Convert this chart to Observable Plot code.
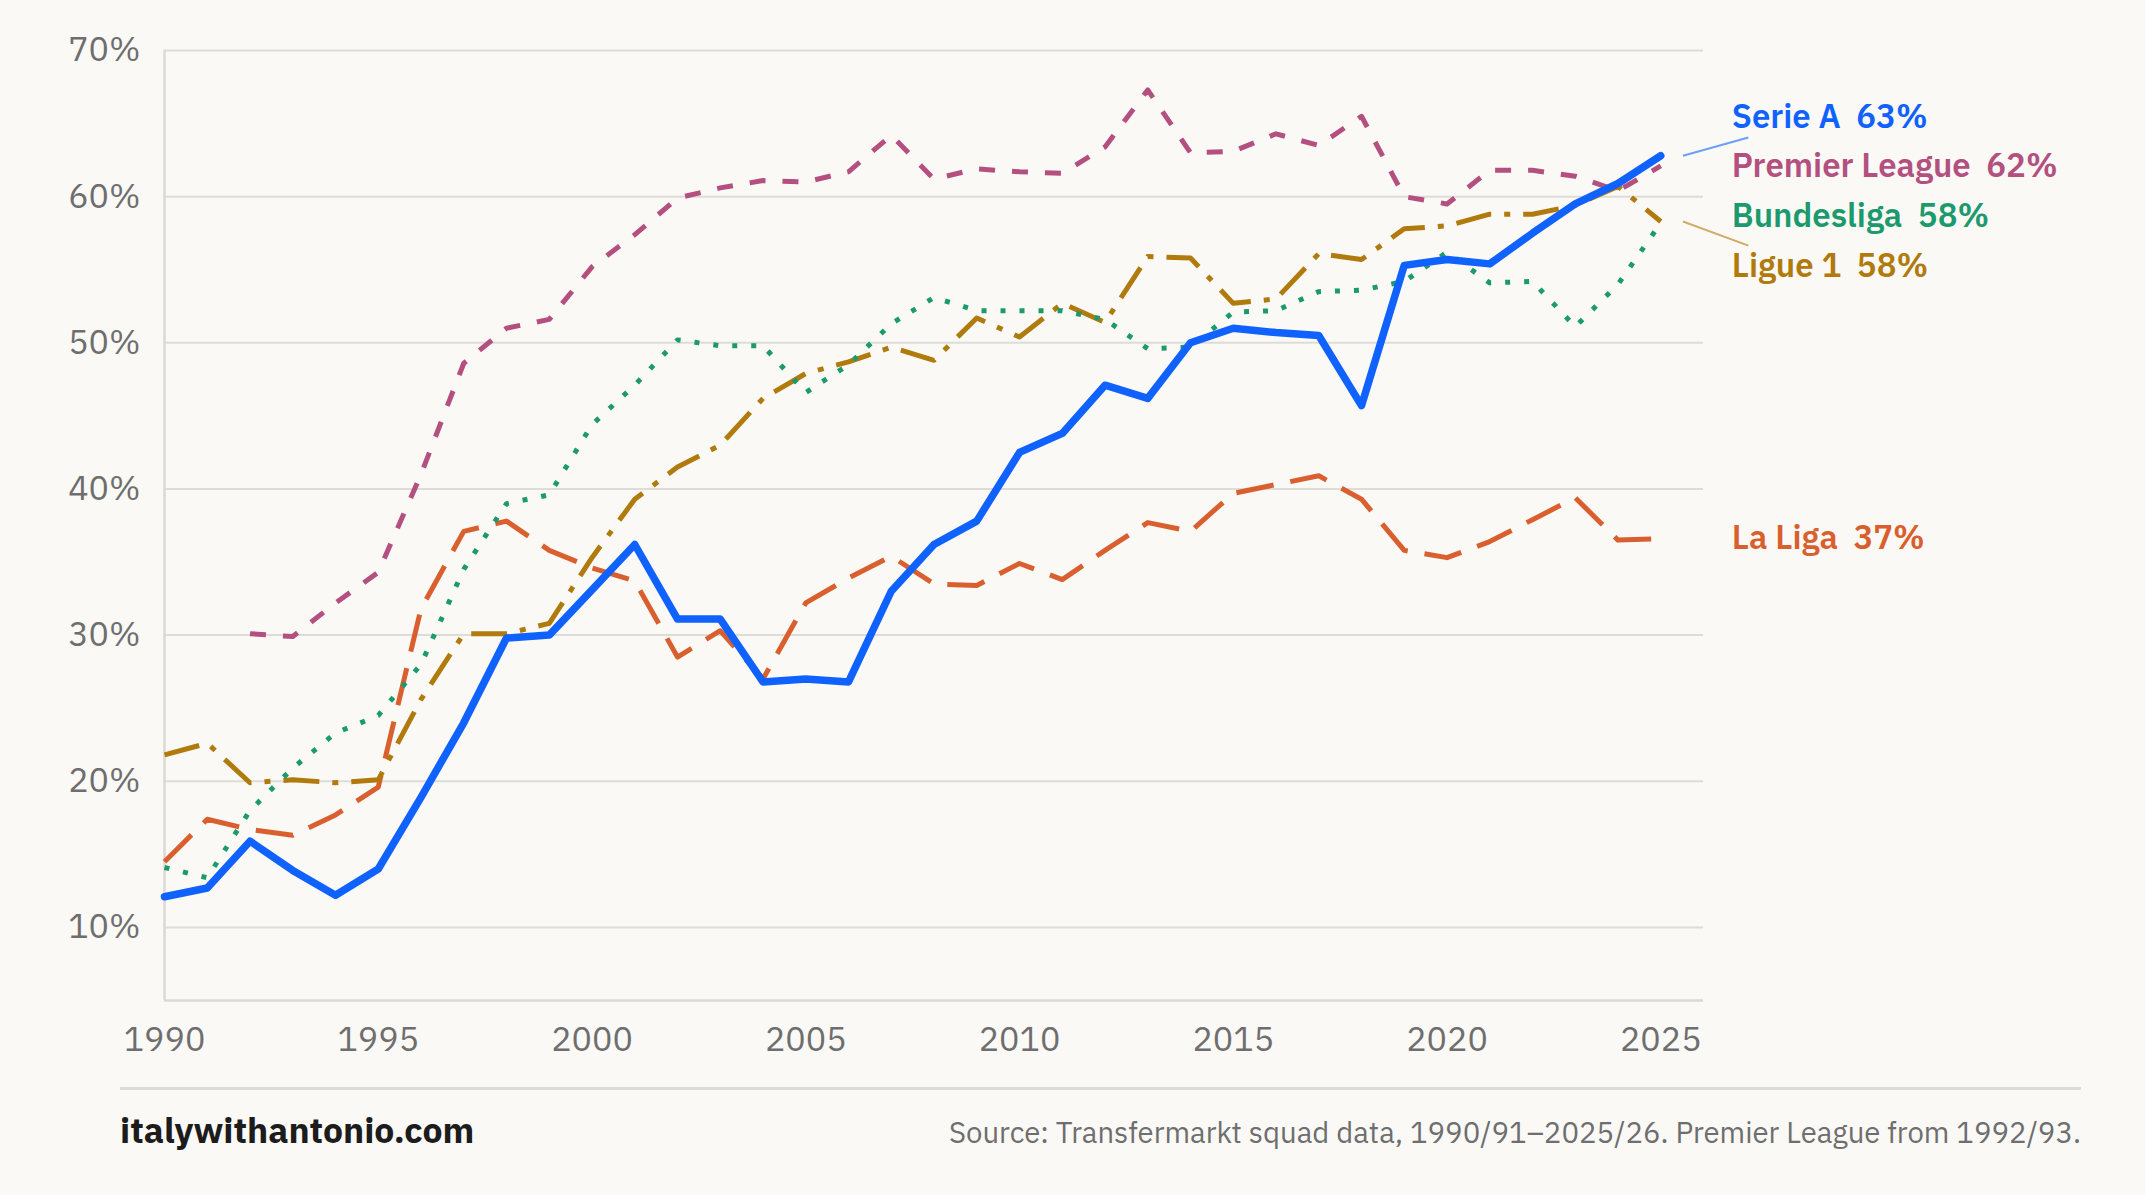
<!DOCTYPE html>
<html><head><meta charset="utf-8">
<script src="https://cdn.jsdelivr.net/npm/d3@7"></script>
<script src="https://cdn.jsdelivr.net/npm/@observablehq/plot@0.6"></script>
<style>
html,body{margin:0;padding:0;background:#FAF9F6;}
body{width:2145px;height:1195px;overflow:hidden;font-family:"IBM Plex Sans",Roboto,"Noto Sans",sans-serif;}
#chart svg{display:block;}
.rule{margin:17px 0 0 120px;width:1961px;height:3px;background:#DEDCD7;}
.footer{display:flex;justify-content:space-between;align-items:baseline;margin:17px 64px 0 120px;}
.brand{font-weight:700;font-size:35.5px;color:#1c1c1c;}
.source{font-size:29.3px;color:#6e6e6e;}
</style></head><body>
<div id="chart"></div>
<div class="rule"></div>
<div class="footer"><span class="brand">italywithantonio.com</span><span class="source">Source: Transfermarkt squad data, 1990/91–2025/26. Premier League from 1992/93.</span></div>
<script>
const years = d3.range(1990, 2026);
const serieA   = [12.1,12.7,15.9,13.9,12.2,14.0,18.9,24.0,29.8,30.0,33.1,36.2,31.1,31.1,26.8,27.0,26.8,33.0,36.2,37.8,42.5,43.8,47.1,46.2,50.0,51.0,50.7,50.5,45.7,55.3,55.7,55.4,57.5,59.5,60.9,62.8];
const premier  = [null,null,30.1,29.9,32.2,34.3,41.0,48.6,51.0,51.6,55.2,57.4,59.9,60.6,61.1,61.0,61.7,64.2,61.2,61.9,61.7,61.6,63.4,67.3,63.0,63.1,64.3,63.5,65.5,60.0,59.5,61.8,61.8,61.4,60.4,62.1];
const bundes   = [14.1,13.4,18.0,20.9,23.3,24.5,28.0,34.5,39.0,39.6,44.4,47.1,50.2,49.8,49.8,46.6,48.5,51.3,53.1,52.2,52.2,52.2,51.6,49.6,49.7,52.1,52.2,53.5,53.6,54.2,56.2,54.1,54.2,51.1,54.0,58.2];
const ligue1   = [21.8,22.6,19.9,20.1,19.9,20.1,25.6,30.1,30.1,30.8,35.3,39.3,41.5,43.0,46.2,47.9,48.7,49.7,48.8,51.7,50.4,52.7,51.4,55.9,55.8,52.7,53.0,56.1,55.7,57.8,58.0,58.8,58.8,59.4,60.7,58.3];
const laliga   = [14.5,17.4,16.7,16.3,17.7,19.6,31.8,37.1,37.8,35.8,34.6,33.7,28.5,30.3,27.0,32.2,33.9,35.4,33.5,33.4,34.9,33.8,35.8,37.7,37.1,39.7,40.3,40.9,39.3,35.8,35.3,36.4,37.9,39.4,36.5,36.6];
const xTicks = [1990,1995,2000,2005,2010,2015,2020,2025];
const yTicks = [10,20,30,40,50,60,70];

const leagues = [
  {name:"Serie A", values:serieA, color:"#0F62FE", width:7.5, dash:null, cap:"round"},
  {name:"Premier League", values:premier, color:"#B4507F", width:5, dash:"16,17", cap:"butt"},
  {name:"Bundesliga", values:bundes, color:"#1C9A6D", width:5, dash:"5,14", cap:"butt"},
  {name:"Ligue 1", values:ligue1, color:"#B07A0C", width:5, dash:"36,13,6,13", cap:"butt"},
  {name:"La Liga", values:laliga, color:"#D95F2E", width:5, dash:"38,17", cap:"butt"}
];

// label placement: clusters centred on mean of targets, fixed top-to-bottom order
const gap = 3.4;
const labels = leagues.map(l => {
  const last = l.values[l.values.length-1];
  return {name:l.name, color:l.color, target:last, text:`${l.name}\u00A0\u00A0${Math.round(last)}%`};
});
let clusters = labels.map(d => ({items:[d], mean:d.target}));
let merged = true;
while (merged) {
  merged = false;
  for (let i = 0; i < clusters.length-1; i++) {
    const a = clusters[i], b = clusters[i+1];
    const aLow = a.mean - (a.items.length-1)/2*gap;
    const bHigh = b.mean + (b.items.length-1)/2*gap;
    if (aLow - bHigh < gap) {
      const items = [...a.items, ...b.items];
      clusters.splice(i, 2, {items, mean:d3.mean(items, d => d.target)});
      merged = true; break;
    }
  }
}
for (const c of clusters) {
  const n = c.items.length;
  c.items.forEach((d,i) => { d.labelY = c.mean + ((n-1)/2 - i)*gap; });
}
const lastYear = years[years.length-1];

const marks = [
  Plot.ruleY(yTicks, {stroke:"#DEDCD7", strokeWidth:2}),
  Plot.ruleY([5], {stroke:"#DCD9D4", strokeWidth:2.5}),
  Plot.ruleX([1990], {stroke:"#DCD9D4", strokeWidth:2.5}),
  Plot.axisX(xTicks, {tickSize:0, tickPadding:26, tickFormat:d => String(d), fontSize:34, label:null}),
  Plot.axisY(yTicks, {tickSize:0, tickPadding:24, tickFormat:d => d + "%", fontSize:34, label:null})
];
for (const l of [...leagues].reverse()) {
  const data = years.map((y,i) => ({year:y, value:l.values[i]})).filter(d => d.value != null);
  marks.push(Plot.line(data, {x:"year", y:"value", stroke:l.color, strokeWidth:l.width,
    strokeDasharray:l.dash, strokeLinecap:l.cap, strokeLinejoin:"round"}));
}
for (const d of labels) {
  if (Math.abs(d.labelY - d.target) > 1.5) {
    const s = Math.sign(d.target - d.labelY);
    marks.push(Plot.link([d], {x1:() => lastYear + 0.52, y1:"target", x2:() => lastYear + 2.05,
      y2:dd => dd.labelY + s*1.4, stroke:d.color, strokeOpacity:0.6, strokeWidth:2}));
  }
  marks.push(Plot.text([d], {x:() => lastYear, y:"labelY", text:"text", fill:d.color, textAnchor:"start",
    dx:71, fontSize:33, fontWeight:600}));
}

const chart = Plot.plot({
  width:2145, height:1070,
  marginLeft:164, marginRight:442, marginTop:50, marginBottom:70,
  x:{domain:[1990,2026]},
  y:{domain:[5,70]},
  style:{background:"transparent", color:"#6e6e6e", fontFamily:'"IBM Plex Sans",Roboto,"Noto Sans",sans-serif', fontSize:"34px"},
  marks
});
document.getElementById("chart").appendChild(chart);
</script>
</body></html>
